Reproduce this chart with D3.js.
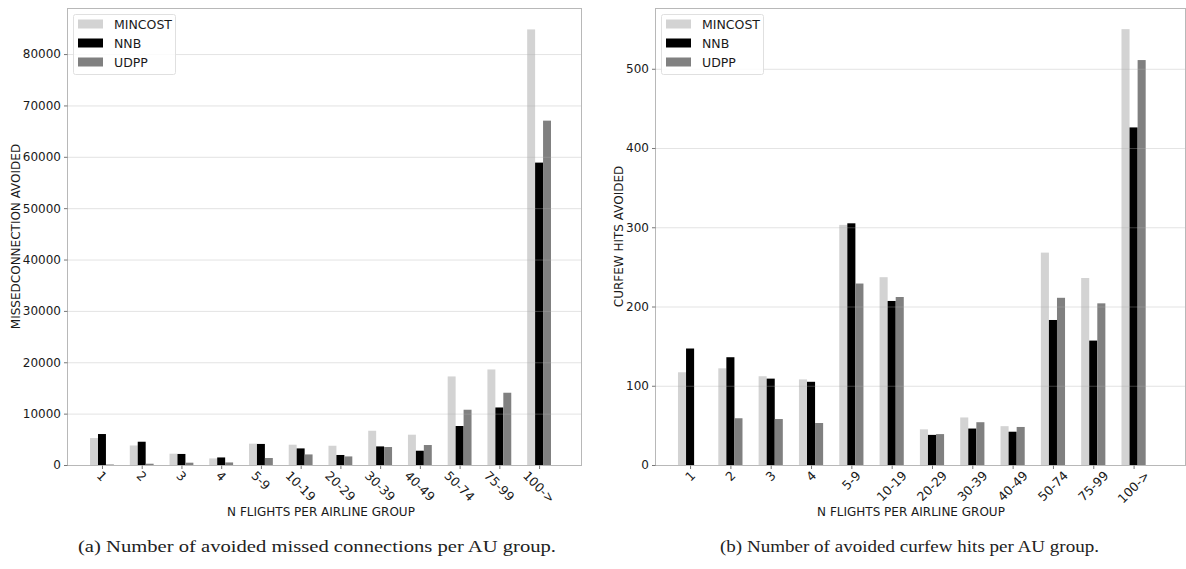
<!DOCTYPE html>
<html>
<head>
<meta charset="utf-8">
<script src="https://cdn.jsdelivr.net/npm/d3@7"></script>
<style>
  body { margin: 0; background: #fff; }
  svg { display: block; }
  .sans { font-family: "DejaVu Sans", sans-serif; }
  .cap { font-family: "Liberation Serif", serif; }
</style>
</head>
<body>
<svg id="chart" width="1186" height="569"></svg>
<script>
const categories = ["1", "2", "3", "4", "5-9", "10-19", "20-29", "30-39", "40-49", "50-74", "75-99", "100->"];
const seriesNames = ["MINCOST", "NNB", "UDPP"];
const seriesColors = ["#d3d3d3", "#000000", "#808080"];

const missedMincost = [5250, 3800, 2200, 1280, 4150, 3950, 3750, 6670, 5900, 17240, 18600, 84800];
const missedNnb     = [6030, 4530, 2150, 1470, 4100, 3230, 1950, 3620, 2780, 7590, 11200, 58870];
const missedUdpp    = [100, 250, 450, 500, 1360, 2060, 1670, 3500, 3890, 10760, 14070, 67040];

const curfewMincost = [117, 122, 112, 108, 303, 237, 45, 60, 49, 268, 236, 550];
const curfewNnb     = [147, 136, 109, 105, 305, 207, 38, 46, 42, 183, 157, 426];
const curfewUdpp    = [0, 59, 58, 53, 229, 212, 39, 54, 48, 211, 204, 511];

const missedTicks = [0, 10000, 20000, 30000, 40000, 50000, 60000, 70000, 80000];
const curfewTicks = [0, 100, 200, 300, 400, 500];

const svg = d3.select("#chart");

function drawPanel(cfg) {
  const g = svg.append("g").attr("class", "sans");
  const x = d3.scaleLinear().domain(cfg.xDomain).range([cfg.left, cfg.right]);
  const y = d3.scaleLinear().domain([0, cfg.yMax]).range([cfg.bottom, cfg.top]);
  const barW = x(0.2) - x(0);

  // bars
  cfg.series.forEach((vals, si) => {
    g.append("g").selectAll("rect").data(vals).enter().append("rect")
      .attr("x", (d, i) => x(i + (si - 1) * 0.2) - barW / 2)
      .attr("y", d => y(d))
      .attr("width", barW)
      .attr("height", d => y(0) - y(d))
      .attr("fill", seriesColors[si]);
  });

  // grid (drawn over bars, faint)
  g.append("g").selectAll("line").data(cfg.yTicks.filter(t => t > 0)).enter().append("line")
    .attr("x1", cfg.left).attr("x2", cfg.right)
    .attr("y1", d => y(d) + 0.5).attr("y2", d => y(d) + 0.5)
    .attr("stroke", "#b0b0b0").attr("stroke-opacity", 0.35).attr("stroke-width", 1);

  // frame
  g.append("rect")
    .attr("x", cfg.left + 0.5).attr("y", cfg.top + 0.5)
    .attr("width", cfg.right - cfg.left - 1).attr("height", cfg.bottom - cfg.top)
    .attr("fill", "none").attr("stroke", "#b8b8b8").attr("stroke-width", 1);

  // y axis
  const yAxis = d3.axisLeft(y).tickValues(cfg.yTicks).tickFormat(d3.format("d")).tickSize(3.5).tickPadding(3);
  const ya = g.append("g").attr("transform", `translate(${cfg.left + 0.5},0)`).call(yAxis);
  ya.select(".domain").remove();
  ya.selectAll(".tick line").attr("stroke", "#777");
  ya.selectAll(".tick text").attr("font-size", 12).attr("fill", "#1a1a1a").attr("font-family", null);
  ya.attr("font-family", null);

  // x axis ticks
  const xa = g.append("g").attr("transform", `translate(0,${cfg.bottom + 0.5})`)
    .call(d3.axisBottom(x).tickValues(d3.range(categories.length)).tickFormat(i => categories[i]).tickSize(3.5));
  xa.select(".domain").remove();
  xa.selectAll(".tick line").attr("stroke", "#777");
  xa.selectAll(".tick text").remove();

  // rotated x labels, centered on tick
  const labelTop = cfg.bottom + 4;
  const lg = g.append("g");
  categories.forEach((c, i) => {
    const t = lg.append("text").text(c)
      .attr("font-size", 12.5).attr("fill", "#1a1a1a")
      .attr("text-anchor", "middle").attr("dominant-baseline", "central");
    const w = t.node().getComputedTextLength();
    const h = 12;
    const bh = (w + h) * Math.SQRT1_2;
    const cx = x(i), cy = labelTop + bh / 2;
    t.attr("x", cx).attr("y", cy).attr("transform", `rotate(${cfg.rot},${cx},${cy})`);
  });

  // axis titles
  g.append("text").text("N FLIGHTS PER AIRLINE GROUP")
    .attr("x", cfg.xTitleX).attr("y", 516).attr("text-anchor", "middle")
    .attr("font-size", 12).attr("fill", "#1a1a1a");
  g.append("text").text(cfg.yTitle)
    .attr("transform", `translate(${cfg.yTitleX},${(cfg.top + cfg.bottom) / 2}) rotate(-90)`)
    .attr("text-anchor", "middle").attr("font-size", 12).attr("fill", "#1a1a1a");

  // legend
  const lx = cfg.left + 6, ly = 14;
  g.append("rect").attr("x", lx + 0.5).attr("y", ly + 0.5).attr("width", 102).attr("height", 60)
    .attr("rx", 2).attr("fill", "#fff").attr("fill-opacity", 0.85).attr("stroke", "#e0e0e0");
  seriesNames.forEach((n, si) => {
    const cy = ly + 10 + si * 19;
    g.append("rect").attr("x", lx + 5).attr("y", cy - 4.5).attr("width", 25).attr("height", 9)
      .attr("fill", seriesColors[si]);
    g.append("text").text(n).attr("x", lx + 41).attr("y", cy).attr("dominant-baseline", "central")
      .attr("font-size", 12.5).attr("fill", "#1a1a1a");
  });

  // caption
  svg.append("text").attr("class", "cap").text(cfg.caption)
    .attr("x", cfg.capX).attr("y", 552)
    .attr("font-size", 16.5).attr("fill", "#222")
    .attr("textLength", cfg.capW).attr("lengthAdjust", "spacingAndGlyphs");
}

drawPanel({
  left: 67, right: 582, top: 8, bottom: 465,
  xDomain: [-0.88, 12.08], yMax: 88970,
  series: [missedMincost, missedNnb, missedUdpp],
  yTicks: missedTicks, rot: 45,
  yTitle: "MISSEDCONNECTION AVOIDED", yTitleX: 20, xTitleX: 321,
  caption: "(a) Number of avoided missed connections per AU group.", capX: 78, capW: 478
});

drawPanel({
  left: 655, right: 1186, top: 8, bottom: 465,
  xDomain: [-0.87, 12.3], yMax: 576.7,
  series: [curfewMincost, curfewNnb, curfewUdpp],
  yTicks: curfewTicks, rot: -45,
  yTitle: "CURFEW HITS AVOIDED", yTitleX: 623, xTitleX: 911,
  caption: "(b) Number of avoided curfew hits per AU group.", capX: 720, capW: 379
});
</script>
</body>
</html>
